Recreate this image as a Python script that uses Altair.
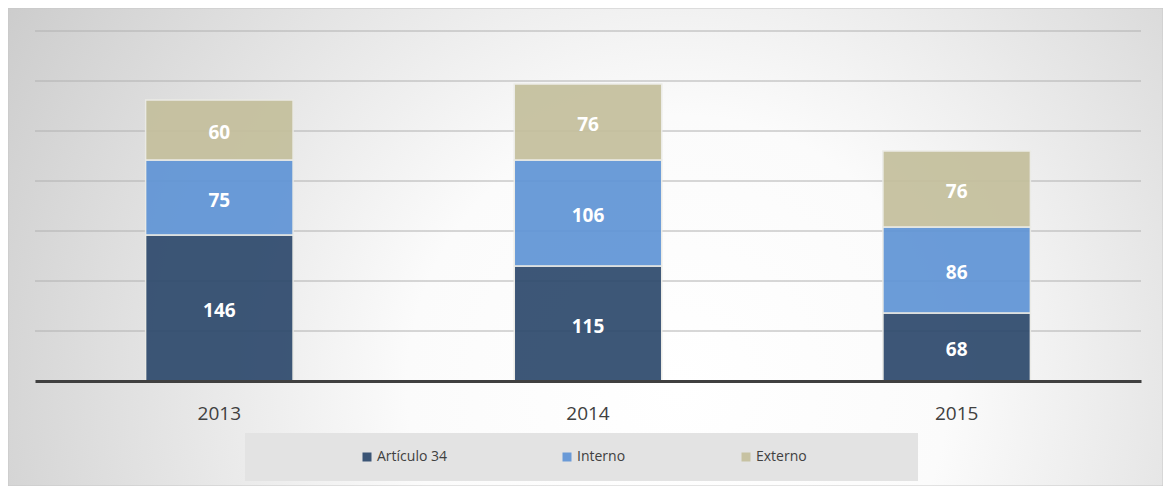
import altair as alt
import pandas as pd

years = ["2013", "2014", "2015"]
series = ["Artículo 34", "Interno", "Externo"]
articulo34 = [146, 115, 68]
interno = [75, 106, 86]
externo = [60, 76, 76]
grid_values = [50, 100, 150, 200, 250, 300, 350]
colors = ["#2d496c", "#5f94d6", "#c4bf9c"]

rows = []
for i, yr in enumerate(years):
    for k, (s, vals) in enumerate(zip(series, [articulo34, interno, externo])):
        rows.append({"year": yr, "series": s, "value": vals[i], "order": k})
df = pd.DataFrame(rows)

W, H = 1106, 350
FONT = "Open Sans"

y_scale = alt.Scale(domain=[0, 350], nice=False)
x_scale = alt.Scale(domain=years, paddingInner=0.6, paddingOuter=0.3)

bg = alt.Chart(alt.Data(values=[{"a": 1}])).mark_rect(
    fill={
        "gradient": "radial",
        "x1": 0.58, "y1": 0.62, "r1": 0.0,
        "x2": 0.58, "y2": 0.62, "r2": 0.78,
        "stops": [
            {"offset": 0.0, "color": "#ffffff"},
            {"offset": 0.3, "color": "#fbfbfb"},
            {"offset": 1.0, "color": "#c0c0c0"},
        ],
    },
    stroke="#c8c8c8",
    strokeWidth=1,
).encode(
    x=alt.value(-27), x2=alt.value(1128), y=alt.value(-23), y2=alt.value(455)
)

legend_box = alt.Chart(alt.Data(values=[{"a": 1}])).mark_rect(
    fill="#e3e3e3"
).encode(
    x=alt.value(210), x2=alt.value(883), y=alt.value(402), y2=alt.value(450)
)

grid = alt.Chart(pd.DataFrame({"v": grid_values})).mark_rule(
    color="#b0b0b0", strokeWidth=1
).encode(y=alt.Y("v:Q", scale=y_scale, axis=None))

bars = alt.Chart(df).mark_bar(
    stroke="#ebebe6", strokeWidth=1.5, opacity=0.92
).encode(
    x=alt.X(
        "year:N",
        sort=years,
        scale=x_scale,
        axis=alt.Axis(
            title=None,
            labelAngle=0,
            ticks=False,
            domainColor="#404040",
            domainWidth=3,
            labelFontSize=19,
            labelColor="#404040",
            labelPadding=23,
            labelFont=FONT,
            zindex=1,
        ),
    ),
    y=alt.Y("value:Q", stack="zero", scale=y_scale, axis=None),
    color=alt.Color(
        "series:N",
        sort=series,
        scale=alt.Scale(domain=series, range=colors),
        legend=alt.Legend(
            title=None,
            orient="none",
            legendX=325,
            legendY=419,
            direction="horizontal",
            columns=3,
            columnPadding=113,
            gridAlign="each",
            symbolType="square",
            symbolSize=81,
            symbolStrokeWidth=0,
            symbolOpacity=0.92,
            labelFontSize=14,
            labelFont=FONT,
            labelColor="#404040",
            labelOffset=3,
        ),
    ),
    order=alt.Order("order:Q"),
)

labels = alt.Chart(df).transform_stack(
    stack="value",
    groupby=["year"],
    as_=["v0", "v1"],
    sort=[alt.SortField("order", "ascending")],
).transform_calculate(
    mid="(datum.v0 + datum.v1) / 2"
).mark_text(
    color="white", fontSize=19, fontWeight="bold", font=FONT, baseline="middle", dy=3
).encode(
    x=alt.X("year:N", sort=years, scale=x_scale),
    y=alt.Y("mid:Q", scale=y_scale),
    text="value:Q",
)

chart = alt.layer(bg, legend_box, grid, bars, labels).properties(
    width=W,
    height=H,
    autosize=alt.AutoSizeParams(type="none"),
    padding={"left": 27, "top": 23, "right": 22, "bottom": 105},
).configure_view(stroke=None)

chart.save("out.html", embed_options={"renderer": "svg", "actions": False})
